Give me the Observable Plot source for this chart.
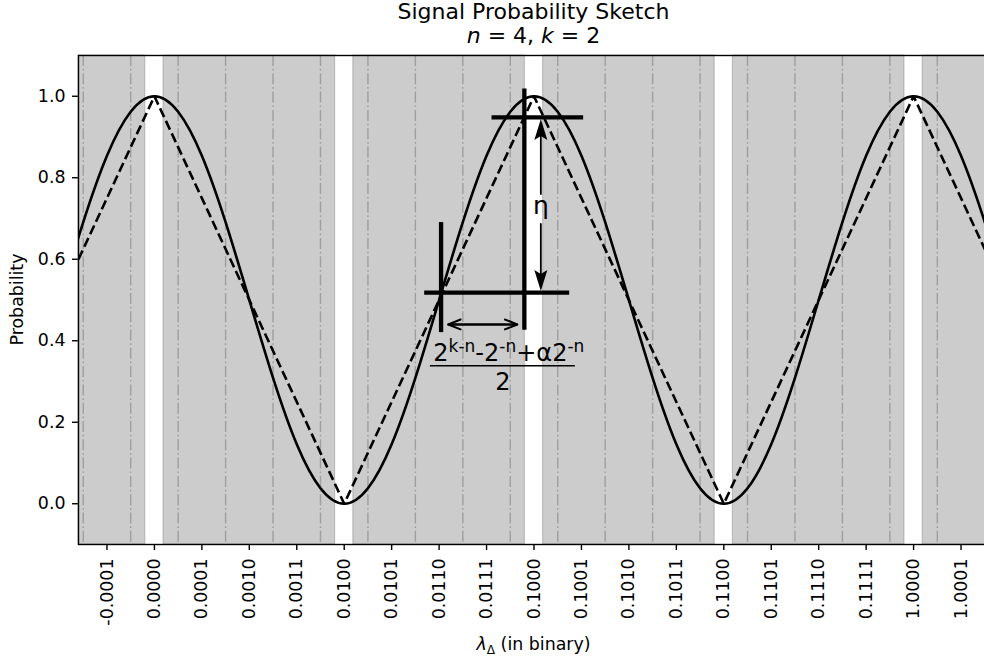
<!DOCTYPE html>
<html><head><meta charset="utf-8">
<script src="https://cdn.jsdelivr.net/npm/d3@7"></script>
<script src="https://cdn.jsdelivr.net/npm/@observablehq/plot@0.6"></script>
<style>
html,body{margin:0;padding:0;background:#fff;overflow:hidden;}
#wrap{position:relative;width:990px;height:664px;}
#wrap svg{position:absolute;left:0;top:0;}
</style></head><body><div id="wrap"></div>
<script>
// ---- data ----
const xDomain = [-0.1, 1.1];
const yDomain = [-0.1, 1.1];
const xTicks = [-0.0625, 0, 0.0625, 0.125, 0.1875, 0.25, 0.3125, 0.375, 0.4375, 0.5, 0.5625, 0.625, 0.6875, 0.75, 0.8125, 0.875, 0.9375, 1, 1.0625];
const xTickLabels = ["-0.0001","0.0000","0.0001","0.0010","0.0011","0.0100","0.0101","0.0110","0.0111","0.1000","0.1001","0.1010","0.1011","0.1100","0.1101","0.1110","0.1111","1.0000","1.0001"];
const yTicks = [0, 0.2, 0.4, 0.6, 0.8, 1.0];
const yTickLabels = ["0.0","0.2","0.4","0.6","0.8","1.0"];

// solid (smooth) probability curve, sampled every 1/32
const solidX = [-0.125, -0.09375, -0.0625, -0.03125, 0, 0.03125, 0.0625, 0.09375, 0.125, 0.15625, 0.1875, 0.21875, 0.25, 0.28125, 0.3125, 0.34375, 0.375, 0.40625, 0.4375, 0.46875, 0.5, 0.53125, 0.5625, 0.59375, 0.625, 0.65625, 0.6875, 0.71875, 0.75, 0.78125, 0.8125, 0.84375, 0.875, 0.90625, 0.9375, 0.96875, 1, 1.03125, 1.0625, 1.09375, 1.125];
const solidY = [0.5, 0.691, 0.854, 0.962, 1, 0.962, 0.854, 0.691, 0.5, 0.309, 0.146, 0.038, 0, 0.038, 0.146, 0.309, 0.5, 0.691, 0.854, 0.962, 1, 0.962, 0.854, 0.691, 0.5, 0.309, 0.146, 0.038, 0, 0.038, 0.146, 0.309, 0.5, 0.691, 0.854, 0.962, 1, 0.962, 0.854, 0.691, 0.5];

// dashed (triangular) curve
const triX = [-0.1, 0, 0.25, 0.5, 0.75, 1, 1.1];
const triY = [0.6, 1, 0, 1, 0, 1, 0.6];

// shaded bands (white gaps around 0, 1/4, 1/2, 3/4, 1)
const bandStart = [-0.1, 0.012, 0.262, 0.512, 0.762, 1.012];
const bandEnd   = [-0.012, 0.238, 0.488, 0.738, 0.988, 1.1];

// dash-dot guide lines
const guideX = [-0.09375, -0.03125, 0.03125, 0.09375, 0.15625, 0.21875, 0.28125, 0.34375, 0.40625, 0.46875, 0.53125, 0.59375, 0.65625, 0.71875, 0.78125, 0.84375, 0.90625, 0.96875, 1.03125, 1.09375];

// annotations (data units)
const markerX  = [0.4873, 0.3776];
const markerY1 = [0.426, 0.42];
const markerY2 = [1.018, 0.69];
const levelY  = [0.948, 0.518];
const levelX1 = [0.4447, 0.356];
const levelX2 = [0.5654, 0.547];
const spanX = [0.387, 0.478];
const spanY = 0.44;
const etaX = 0.509;
const etaTips = [0.944, 0.522];
const etaStarts = [0.76, 0.687];
const etaLabel = "η";
const etaLabelY = 0.731;
const fracNumParts = ["2", "k-n", "-2", "-n", "+α2", "-n"];
const fracNumX = 0.4675, fracNumY = 0.348;
const fracBarX = [0.3635, 0.5545], fracBarY = 0.3386;
const fracDen = "2";
const fracDenX = 0.4596, fracDenY = 0.279;

const titleText = "Signal Probability Sketch";
const xLabelMain = "λ", xLabelSub = "Δ", xLabelRest = " (in binary)";
const yLabelText = "Probability";

// ---- build ----
const solid = solidX.map((x, i) => ({x, y: solidY[i]}));
const tri = triX.map((x, i) => ({x, y: triY[i]}));
const bands = bandStart.map((s, i) => ({x1: s, x2: bandEnd[i], y1: yDomain[0], y2: yDomain[1]}));
const markers = markerX.map((x, i) => ({x, y1: markerY1[i], y2: markerY2[i]}));
const levels = levelY.map((y, i) => ({y, x1: levelX1[i], x2: levelX2[i]}));
const spans = [{x1: spanX[0], x2: spanX[1], y: spanY}, {x1: spanX[1], x2: spanX[0], y: spanY}];
const etaShafts = etaTips.map((t, i) => ({x: etaX, y1: etaStarts[i], y2: t}));
const xLabMap = new Map(xTicks.map((t, i) => [t, xTickLabels[i]]));
const yLabMap = new Map(yTicks.map((t, i) => [t, yTickLabels[i]]));

const dartUp = {draw(c) { c.moveTo(0, 0); c.lineTo(6.5, 21); c.lineTo(0, 17); c.lineTo(-6.5, 21); c.closePath(); }};
const dartDown = {draw(c) { c.moveTo(0, 0); c.lineTo(6.5, -21); c.lineTo(0, -17); c.lineTo(-6.5, -21); c.closePath(); }};

const chart = Plot.plot({
  width: 990, height: 664,
  marginLeft: 78, marginRight: 1, marginTop: 55, marginBottom: 120,
  style: {fontFamily: "DejaVu Sans", fontSize: "17.4px", background: "white", color: "black", overflow: "visible"},
  x: {domain: xDomain, ticks: xTicks, tickFormat: d => xLabMap.get(d), tickRotate: -90, tickSize: 6, tickPadding: 8, label: null},
  y: {domain: yDomain, ticks: yTicks, tickFormat: d => yLabMap.get(d), tickSize: 6, tickPadding: 7, label: null},
  marks: [
    Plot.rect(bands, {x1: "x1", x2: "x2", y1: "y1", y2: "y2", fill: "gray", fillOpacity: 0.4, stroke: "gray", strokeOpacity: 0.4, strokeWidth: 1.2}),
    Plot.ruleX(guideX, {stroke: "gray", strokeOpacity: 0.6, strokeWidth: 1.4, strokeDasharray: "11,2.8,1.7,2.8"}),
    Plot.line(solid, {x: "x", y: "y", curve: "natural", stroke: "black", strokeWidth: 2.6, clip: true}),
    Plot.line(tri, {x: "x", y: "y", stroke: "black", strokeWidth: 2.6, strokeDasharray: "9.6,4.2", strokeLinecap: "butt", clip: true}),
    Plot.ruleX(markers, {x: "x", y1: "y1", y2: "y2", stroke: "black", strokeWidth: 4.3}),
    Plot.ruleY(levels, {y: "y", x1: "x1", x2: "x2", stroke: "black", strokeWidth: 4.3}),
    Plot.arrow(spans, {x1: "x1", x2: "x2", y1: "y", y2: "y", stroke: "black", strokeWidth: 2, headLength: 10, headAngle: 44}),
    Plot.arrow(etaShafts, {x1: "x", x2: "x", y1: "y1", y2: "y2", stroke: "black", strokeWidth: 1.8, headLength: 0, insetEnd: 12}),
    Plot.dot([{x: etaX, y: etaTips[0]}], {x: "x", y: "y", r: 5, symbol: dartUp, fill: "black", stroke: "none"}),
    Plot.dot([{x: etaX, y: etaTips[1]}], {x: "x", y: "y", r: 5, symbol: dartDown, fill: "black", stroke: "none"}),
    Plot.text([{x: etaX, y: etaLabelY, t: etaLabel}], {x: "x", y: "y", text: "t", fontSize: 25, fill: "black"}),
    Plot.ruleY([{y: fracBarY, x1: fracBarX[0], x2: fracBarX[1]}], {y: "y", x1: "x1", x2: "x2", stroke: "black", strokeWidth: 1.4}),
    Plot.frame({stroke: "black", strokeWidth: 1.4})
  ]
});
document.getElementById("wrap").appendChild(chart);

const sx = chart.scale("x"), sy = chart.scale("y");
const svg = d3.select(chart);
svg.selectAll('[aria-label$="tick"] path, [aria-label$="tick"]').attr("stroke-width", 1.4);

const F = "DejaVu Sans";
// fraction numerator with superscripts
const num = svg.append("text").attr("x", sx.apply(fracNumX)).attr("y", sy.apply(fracNumY))
  .attr("text-anchor", "middle").attr("font-family", F).attr("font-size", 24).attr("fill", "black");
fracNumParts.forEach((p, i) => {
  const sup = i % 2 === 1;
  num.append("tspan").text(p).attr("font-size", sup ? 17 : 24).attr("dy", i === 0 ? 0 : (sup ? -9.5 : 9.5));
});
svg.append("text").attr("x", sx.apply(fracDenX)).attr("y", sy.apply(fracDenY))
  .attr("text-anchor", "middle").attr("font-family", F).attr("font-size", 24).attr("fill", "black").text(fracDen);

// title & subtitle
const cx = (sx.range[0] + sx.range[1]) / 2;
svg.append("text").attr("x", cx).attr("y", 18.5).attr("text-anchor", "middle")
  .attr("font-family", F).attr("font-size", 22).attr("fill", "black").text(titleText);
const sub = svg.append("text").attr("x", cx).attr("y", 43.3).attr("text-anchor", "middle")
  .attr("font-family", F).attr("font-size", 22).attr("fill", "black");
sub.append("tspan").attr("font-style", "italic").text("n");
sub.append("tspan").text(" = 4, ");
sub.append("tspan").attr("font-style", "italic").text("k");
sub.append("tspan").text(" = 2");

// x label
const xl = svg.append("text").attr("x", cx).attr("y", 650).attr("text-anchor", "middle")
  .attr("font-family", F).attr("font-size", 17.4).attr("fill", "black");
xl.append("tspan").attr("font-style", "italic").text(xLabelMain);
xl.append("tspan").attr("font-size", 12.2).attr("dy", 4).text(xLabelSub);
xl.append("tspan").attr("dy", -4).text(xLabelRest);

// y label
const cy = (sy.range[0] + sy.range[1]) / 2;
svg.append("text").attr("transform", `translate(22.7,${cy}) rotate(-90)`).attr("text-anchor", "middle")
  .attr("font-family", F).attr("font-size", 17.4).attr("fill", "black").text(yLabelText);
</script></body></html>
